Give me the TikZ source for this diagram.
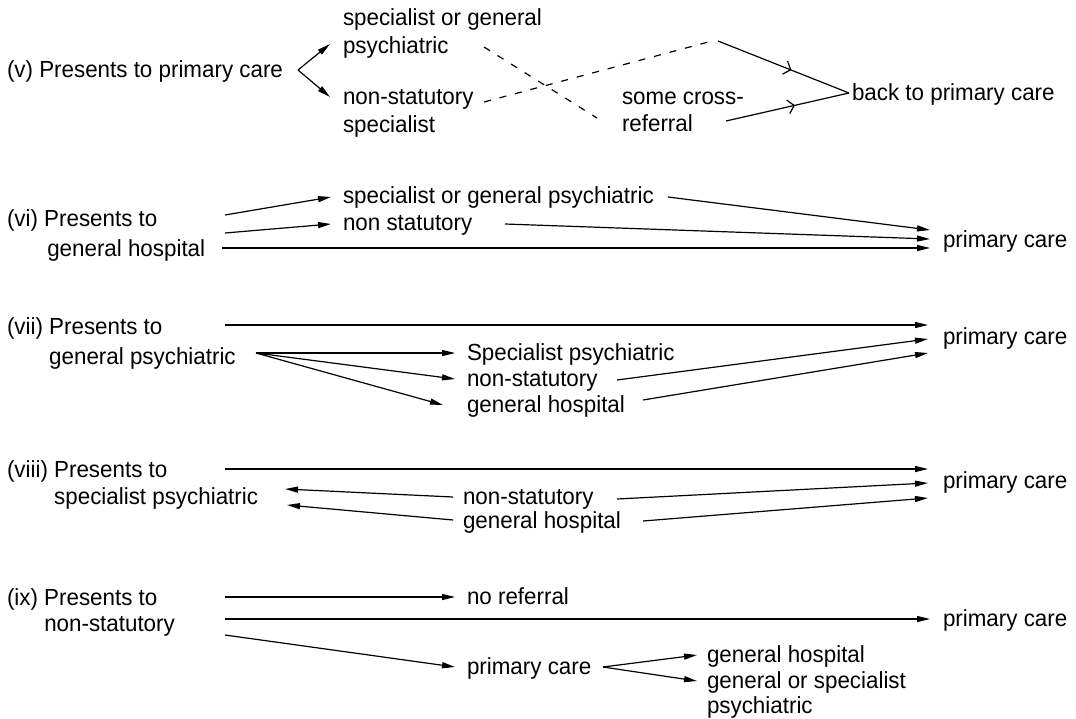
\documentclass[tikz,border=0pt]{standalone}
\usepackage{fontspec}
\setmainfont{Liberation Sans}[FakeStretch=0.96]
\usetikzlibrary{arrows.meta,decorations.markings}
\newcommand{\twoln}[3]{\begin{tabular}[t]{@{}l@{}}#2\\[#1]#3\end{tabular}}
\tikzset{
  lbl/.style={anchor=base west, inner sep=0pt, outer sep=0pt, font=\fontsize{23.3}{28}\selectfont},
  conn/.style={line width=1.2pt},
  arr/.style={conn, -{Triangle[length=13pt,width=6pt]}},
  dsh/.style={conn, dash pattern=on 7pt off 9pt},
  midarr/.style={conn, decoration={markings, mark=at position 0.56 with {\arrow{Straight Barb[length=6pt,width=14pt,line width=1.2pt]}}}, postaction=decorate}
}
\begin{document}
\begin{tikzpicture}[x=1pt,y=-1pt]
\useasboundingbox (0,0) rectangle (1076,718);
% ---------- (v)
\node[lbl] (vlab) at (7,77) {(v) Presents to primary care};
\node[lbl] (vsg) at (343,25) {\twoln{0pt}{specialist or general}{psychiatric}};
\node[lbl] (vns) at (343,104) {\twoln{0pt}{non-statutory}{specialist}};
\node[lbl] (vcr) at (622,104) {\twoln{-1pt}{some cross-}{referral}};
\node[lbl] (vback) at (852,100) {back to primary care};
\coordinate (vA) at (298,70);
\coordinate (vB) at (330,44);
\coordinate (vC) at (330,97);
\draw[arr] (vA) -- (vB);
\draw[arr] (vA) -- (vC);
\coordinate (d1s) at (484,47);
\coordinate (d1e) at (597,118);
\coordinate (d2s) at (484,102);
\coordinate (d2e) at (712,41);
\draw[dsh] (d1s) -- (d1e);
\draw[dsh] (d2s) -- (d2e);
\coordinate (s1) at (718,41);
\coordinate (s2) at (726,121);
\coordinate (vM) at (849,93);
\draw[midarr] (s1) -- (vM);
\draw[midarr] (s2) -- (vM);
% ---------- (vi)
\node[lbl] (vilab) at (7,226) {\twoln{2pt}{(vi) Presents to}{\phantom{(vi)\ }\hspace*{3pt}general hospital}};
\node[lbl] (visg) at (343,203) {specialist or general psychiatric};
\node[lbl] (vins) at (343,230) {non statutory};
\node[lbl] (vipc) at (943,247) {primary care};
\coordinate (viA) at (225,215);
\coordinate (viB) at (331,197);
\coordinate (viC) at (225,233);
\coordinate (viD) at (331,224);
\coordinate (viE) at (222,248);
\coordinate (viF) at (668,197);
\coordinate (viG) at (505,224);
\coordinate (viT1) at (930,230);
\coordinate (viT2) at (930,239);
\coordinate (viT3) at (930,248);
\draw[arr] (viA) -- (viB);
\draw[arr] (viC) -- (viD);
\draw[arr] (viF) -- (viT1);
\draw[arr] (viG) -- (viT2);
\draw[arr] (viE) -- (viT3);
% ---------- (vii)
\node[lbl] (viilab) at (7,334) {\twoln{2pt}{(vii) Presents to}{\phantom{(vii)\ }general psychiatric}};
\node[lbl] (viisp) at (467,360) {Specialist psychiatric};
\node[lbl] (viins) at (467,386) {non-statutory};
\node[lbl] (viigh) at (467,412) {general hospital};
\node[lbl] (viipc) at (943,344) {primary care};
\coordinate (viiA) at (225,325);
\coordinate (viiT1) at (928,325);
\coordinate (viiO) at (256,353);
\coordinate (viiS) at (455,353);
\coordinate (viiN) at (455,379);
\coordinate (viiG) at (443,405);
\coordinate (viiNs) at (617,380);
\coordinate (viiGs) at (643,400);
\coordinate (viiT2) at (928,339);
\coordinate (viiT3) at (928,353);
\draw[arr] (viiA) -- (viiT1);
\draw[arr] (viiO) -- (viiS);
\draw[arr] (viiO) -- (viiN);
\draw[arr] (viiO) -- (viiG);
\draw[arr] (viiNs) -- (viiT2);
\draw[arr] (viiGs) -- (viiT3);
% ---------- (viii)
\node[lbl] (viiilab) at (7,477) {\twoln{-1pt}{(viii) Presents to}{\phantom{(viii)\ }specialist psychiatric}};
\node[lbl] (viiins) at (463,504) {non-statutory};
\node[lbl] (viiigh) at (463,528) {general hospital};
\node[lbl] (viiipc) at (943,488) {primary care};
\coordinate (viiiA) at (225,469);
\coordinate (viiiT1) at (928,469);
\coordinate (viiiNa) at (453,497);
\coordinate (viiiNb) at (285,489);
\coordinate (viiiGa) at (453,520);
\coordinate (viiiGb) at (287,505);
\coordinate (viiiNs) at (617,499);
\coordinate (viiiGs) at (643,521);
\coordinate (viiiT2) at (928,483);
\coordinate (viiiT3) at (928,498);
\draw[arr] (viiiA) -- (viiiT1);
\draw[arr] (viiiNa) -- (viiiNb);
\draw[arr] (viiiGa) -- (viiiGb);
\draw[arr] (viiiNs) -- (viiiT2);
\draw[arr] (viiiGs) -- (viiiT3);
% ---------- (ix)
\node[lbl] (ixlab) at (7,605) {\twoln{-2pt}{(ix) Presents to}{\phantom{(ix)\ }non-statutory}};
\node[lbl] (ixnr) at (467,604) {no referral};
\node[lbl] (ixpc) at (943,626) {primary care};
\node[lbl] (ixpc2) at (467,674) {primary care};
\node[lbl] (ixgh) at (707,662) {general hospital};
\node[lbl] (ixgs) at (707,688) {\twoln{-3pt}{general or specialist}{psychiatric}};
\coordinate (ixA) at (225,597);
\coordinate (ixB) at (455,597);
\coordinate (ixC) at (225,619);
\coordinate (ixD) at (930,619);
\coordinate (ixE) at (225,635);
\coordinate (ixF) at (455,667);
\coordinate (ixO) at (603,667);
\coordinate (ixH) at (697,655);
\coordinate (ixS) at (697,681);
\draw[arr] (ixA) -- (ixB);
\draw[arr] (ixC) -- (ixD);
\draw[arr] (ixE) -- (ixF);
\draw[arr] (ixO) -- (ixH);
\draw[arr] (ixO) -- (ixS);
\end{tikzpicture}
\end{document}
